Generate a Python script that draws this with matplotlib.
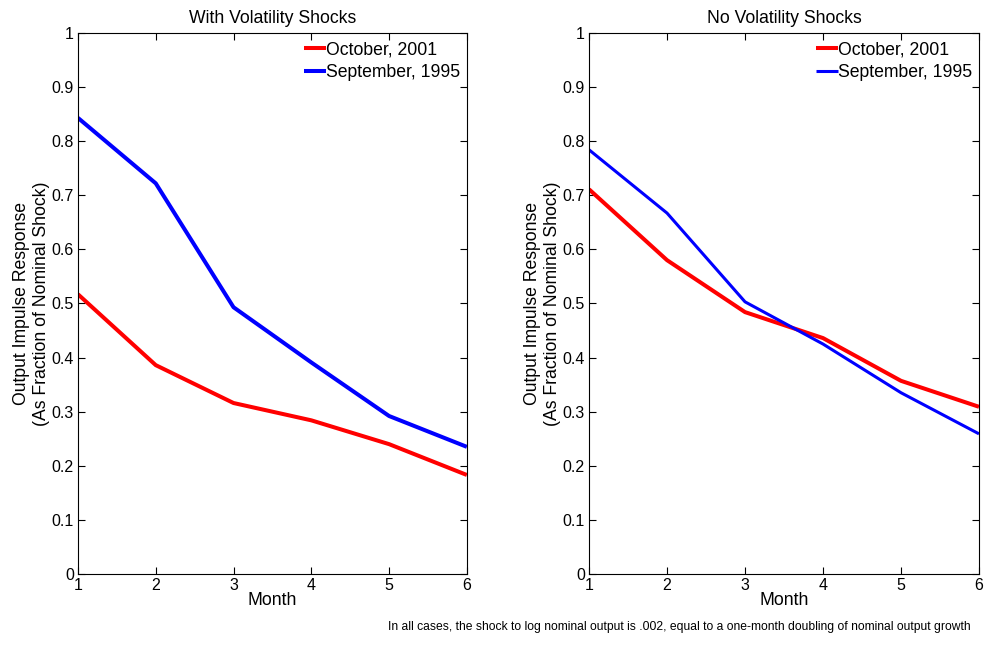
import matplotlib
matplotlib.use("Agg")
import matplotlib.pyplot as plt

plt.rcParams['font.family'] = ['Liberation Sans', 'DejaVu Sans']

months = [1, 2, 3, 4, 5, 6]
with_oct2001 = [0.517, 0.386, 0.316, 0.284, 0.240, 0.183]
with_sep1995 = [0.843, 0.722, 0.493, 0.391, 0.292, 0.235]
no_oct2001 = [0.711, 0.580, 0.484, 0.436, 0.357, 0.309]
no_sep1995 = [0.784, 0.667, 0.503, 0.425, 0.335, 0.259]

titles = ["With Volatility Shocks", "No Volatility Shocks"]
legend_labels = ["October, 2001", "September, 1995"]
yticks = [0, 0.1, 0.2, 0.3, 0.4, 0.5, 0.6, 0.7, 0.8, 0.9, 1]
ytick_labels = ["0", "0.1", "0.2", "0.3", "0.4", "0.5", "0.6", "0.7", "0.8", "0.9", "1"]

fig = plt.figure(figsize=(9.87, 6.48), dpi=100)
ax1 = fig.add_axes([0.079, 0.1142, 0.394, 0.835])
ax2 = fig.add_axes([0.5968, 0.1142, 0.3951, 0.835])

series = [(with_oct2001, with_sep1995, 2.9, 2.9), (no_oct2001, no_sep1995, 2.9, 2.2)]
fs = 11.5
fl = 12.7
for ax, title, (red, blue, lwr, lwb) in zip([ax1, ax2], titles, series):
    ax.plot(months, red, color='#ff0000', lw=lwr, label=legend_labels[0], solid_capstyle='butt')
    ax.plot(months, blue, color='#0000ff', lw=lwb, label=legend_labels[1], solid_capstyle='butt')
    ax.set_xlim(1, 6)
    ax.set_ylim(0, 1)
    ax.set_xticks(months)
    ax.set_yticks(yticks)
    ax.set_yticklabels(ytick_labels)
    ax.tick_params(direction='in', top=True, right=True, labelsize=fs, length=5, width=0.8, pad=3)
    ax.set_title(title, fontsize=fl, pad=7)
    ax.set_xlabel("Month", fontsize=fl, labelpad=-1)
    ax.set_ylabel("Output Impulse Response\n(As Fraction of Nominal Shock)", fontsize=fl,
                  labelpad=1, linespacing=1.22)
    for sp in ax.spines.values():
        sp.set_linewidth(0.8)
    leg = ax.legend(loc='upper right', frameon=False, fontsize=fl, handlelength=1.25,
                    handletextpad=0.0, borderaxespad=0.0, borderpad=0.25, labelspacing=0.33,
                    bbox_to_anchor=(0.993, 0.993))

fig.text(0.9838, 0.0235, "In all cases, the shock to log nominal output is .002, equal to a one-month doubling of nominal output growth",
         ha='right', va='bottom', fontsize=8.7)

fig.savefig("out.png", dpi=100)
